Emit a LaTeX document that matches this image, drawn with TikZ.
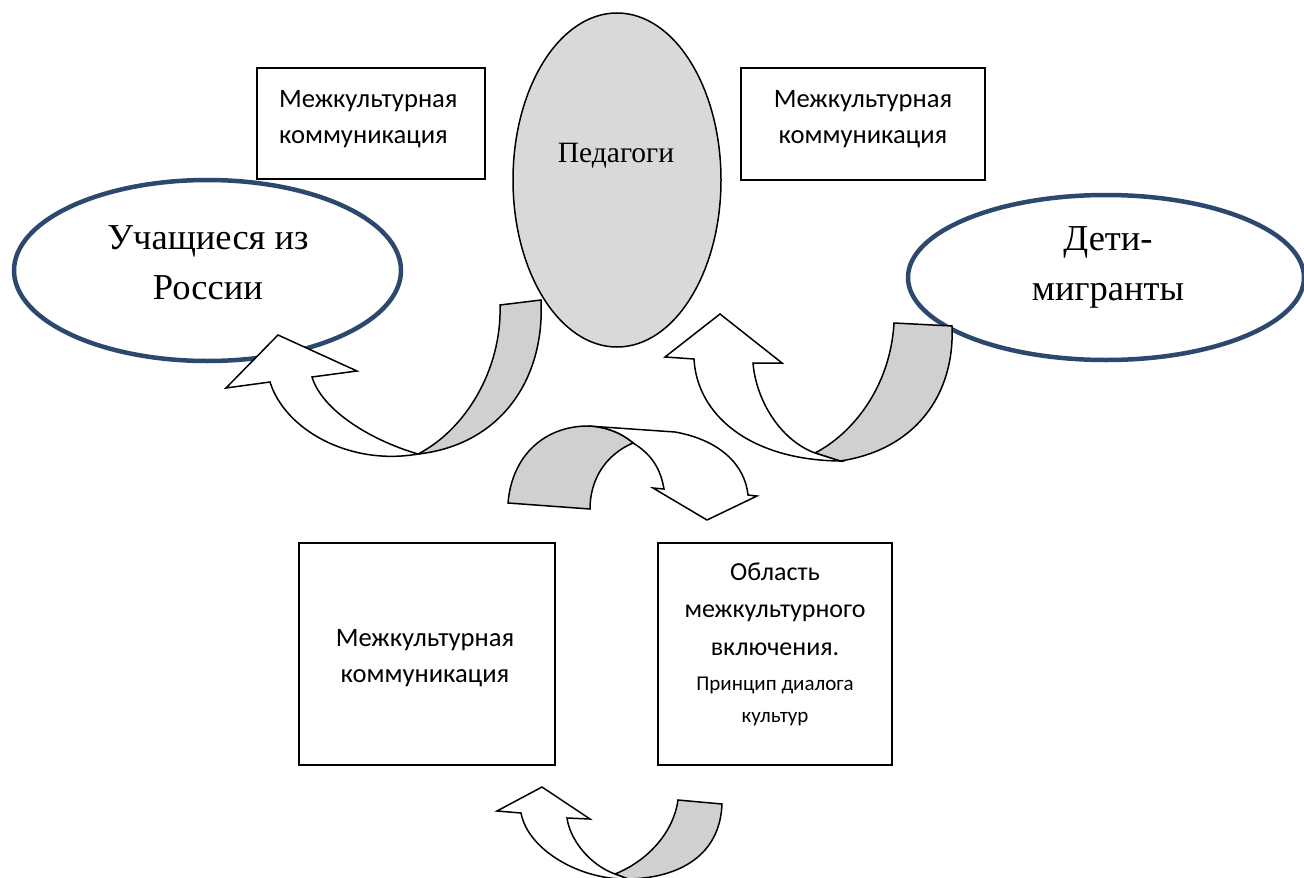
\documentclass[tikz,border=0pt]{standalone}
\usepackage{fontspec}
\setmainfont{Liberation Serif}
\newfontfamily\calfont{Carlito}
\usetikzlibrary{shapes.geometric}
\definecolor{rim}{RGB}{44,72,110}
\definecolor{pedfill}{RGB}{217,217,217}
\definecolor{bandgray}{RGB}{208,208,208}
\begin{document}
\begin{tikzpicture}[x=1pt,y=-1pt,
  box/.style={draw=black,line width=1.5pt,fill=white,inner sep=0pt,rectangle},
  oval/.style={draw=rim,line width=4.5pt,fill=white,ellipse,inner sep=0pt},
  pedoval/.style={draw=black,line width=1.5pt,fill=pedfill,ellipse,inner sep=0pt},
  boxtext/.style={font=\calfont\fontsize{26.6}{36}\selectfont,inner sep=0pt,anchor=base},
  ovaltext/.style={font=\fontsize{36.5}{50}\selectfont,inner sep=0pt,anchor=base,align=center},
  backband/.style={draw=black,line width=1.5pt,fill=bandgray,line join=miter},
  frontband/.style={draw=black,line width=1.5pt,fill=white,line join=miter}]
\useasboundingbox (0,0) rectangle (1304,878);
\clip (0,0) rectangle (1304,878);
\fill[white] (0,0) rectangle (1304,878);

% boxes
\node[box,minimum width=228pt,minimum height=111pt] (b1) at (371,123.5) {};
\node[box,minimum width=244pt,minimum height=112pt] (b2) at (863,124) {};
\node[box,minimum width=256pt,minimum height=222pt] (b3) at (427,654) {};
\node[box,minimum width=234pt,minimum height=222pt] (b4) at (775,654) {};

% ellipses
\node[oval,minimum width=387pt,minimum height=181pt] (eL) at (207.5,270.5) {};
\node[oval,minimum width=396pt,minimum height=165pt] (eR) at (1106,277.5) {};
\node[pedoval,minimum width=208pt,minimum height=334pt] (eP) at (617,180) {};

% texts (base anchor = baseline of the last line)
\node[boxtext,anchor=base west,align=left] (t1) at (279,143) {Межкультурная\\коммуникация};
\node[boxtext,align=center] (t2) at (863,143) {Межкультурная\\коммуникация};
\node[boxtext,align=center] (t3) at (425,682) {Межкультурная\\коммуникация};
\node[boxtext,align=center,font=\calfont\fontsize{26}{37.5}\selectfont] (t4) at (775,722)
  {Область\\межкультурного\\включения.\\[-2.5pt]{\fontsize{21}{32}\selectfont Принцип диалога}\\[-5.5pt]{\fontsize{21}{32}\selectfont культур}};
\node[ovaltext] (tL) at (208,299) {Учащиеся из\\России};
\node[ovaltext] (tR) at (1108,300) {Дети-\\мигранты};
\node[font=\fontsize{29.5}{36}\selectfont,inner sep=0pt,anchor=base] (tP) at (616,162) {Педагоги};

% left curved arrow
\path[backband] (500,305) -- (541,300) .. controls (545,380) and (500,445) .. (418,454)
  .. controls (465,430) and (502,370) .. (500,305) -- cycle;
\path[frontband] (418,454) .. controls (350,466) and (285,430) .. (270,382)
  -- (226,388) -- (278,335) -- (357,371) -- (312,377)
  .. controls (322,410) and (370,440) .. (418,454) -- cycle;

% right curved arrow
\path[backband] (894,323) -- (952,326) .. controls (955,395) and (915,450) .. (840,461)
  -- (815,453) .. controls (850,435) and (890,390) .. (894,323) -- cycle;
\path[frontband] (815,453) -- (840,461) .. controls (750,460) and (697,415) .. (694,359)
  -- (665,357) -- (720,314) -- (782,363) -- (753,363)
  .. controls (756,400) and (780,440) .. (815,453) -- cycle;

% middle curved arrow
\path[frontband] (588,426) -- (675,432) .. controls (720,440) and (745,465) .. (748,495)
  -- (757,496) -- (707,520) -- (653,488) -- (664,489)
  .. controls (660,465) and (648,452) .. (633,443)
  .. controls (620,432) and (605,427) .. (588,426) -- cycle;
\path[backband] (508,503) .. controls (512,455) and (545,426) .. (588,426)
  .. controls (605,427) and (620,432) .. (633,443)
  .. controls (605,455) and (590,480) .. (590,509) -- cycle;

% bottom curved arrow
\path[backband] (678,800) -- (722,804) .. controls (720,855) and (680,878) .. (628,879)
  -- (615,874) .. controls (645,862) and (673,835) .. (678,800) -- cycle;
\path[frontband] (615,874) -- (628,879) .. controls (580,880) and (528,850) .. (521,813)
  -- (497,811) -- (542,787) -- (590,819) -- (567,818)
  .. controls (570,840) and (590,865) .. (615,874) -- cycle;
\end{tikzpicture}
\end{document}
